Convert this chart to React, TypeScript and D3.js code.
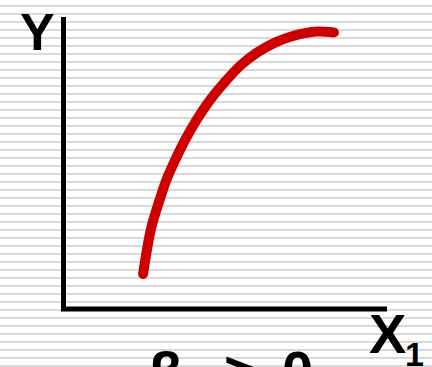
import React from "react";
import * as d3 from "d3";

// curve, in axis units (0..1 on each axis)
const curveX = [0.246, 0.271, 0.297, 0.318, 0.345, 0.376, 0.411, 0.453, 0.496, 0.549, 0.601, 0.657, 0.709, 0.747, 0.784, 0.836];
const curveY = [0.12, 0.277, 0.373, 0.442, 0.51, 0.579, 0.647, 0.716, 0.774, 0.836, 0.88, 0.914, 0.935, 0.945, 0.95, 0.947];

const yLabel = "Y";
const xLabel = "X";
const xSub = "1";
const caption = ["β", "2", ">", "0"];

const W = 432;
const H = 367;
const font = "'Liberation Sans', Arial, sans-serif";

export default function App() {
  const x = d3.scaleLinear().domain([0, 1]).range([63.5, 387]);
  const y = d3.scaleLinear().domain([0, 1]).range([309, 17]);

  const pts: [number, number][] = curveX.map((v, i) => [v, curveY[i]]);
  const curve = d3
    .line<[number, number]>()
    .x((d) => x(d[0]))
    .y((d) => y(d[1]))
    .curve(d3.curveCatmullRom.alpha(0.5));

  // striped slide background
  const stripes = d3.range(5, H, 8);

  return (
    <svg
      width={W}
      height={H}
      style={{ position: "absolute", left: 0, top: 0, background: "#fff" }}
    >
      {stripes.map((s) => (
        <rect key={s} x={0} y={s} width={W} height={2} fill="#d9d9d9" />
      ))}

      <path
        d={`M${x(0)},${y(1)}V${y(0)}H${x(1)}`}
        fill="none"
        stroke="#000"
        strokeWidth={5}
        strokeLinejoin="miter"
      />

      <path
        d={curve(pts) || ""}
        fill="none"
        stroke="#cc0000"
        strokeWidth={10}
        strokeLinecap="round"
        strokeLinejoin="round"
      />

      <text x={20} y={50} fontFamily={font} fontWeight="bold" fontSize={52} fill="#000">
        {yLabel}
      </text>
      <text x={369} y={353} fontFamily={font} fontWeight="bold" fontSize={56} fill="#000">
        {xLabel}
      </text>
      <text x={405} y={366} fontFamily={font} fontWeight="bold" fontSize={34} fill="#000">
        {xSub}
      </text>

      <text fontFamily={font} fontWeight="bold" fontSize={56} fill="#000">
        <tspan x={149} y={391}>{caption[0]}</tspan>
        <tspan x={184} y={405} fontSize={36}>{caption[1]}</tspan>
        <tspan x={224} y={390}>{caption[2]}</tspan>
        <tspan x={282} y={390}>{caption[3]}</tspan>
      </text>
    </svg>
  );
}
